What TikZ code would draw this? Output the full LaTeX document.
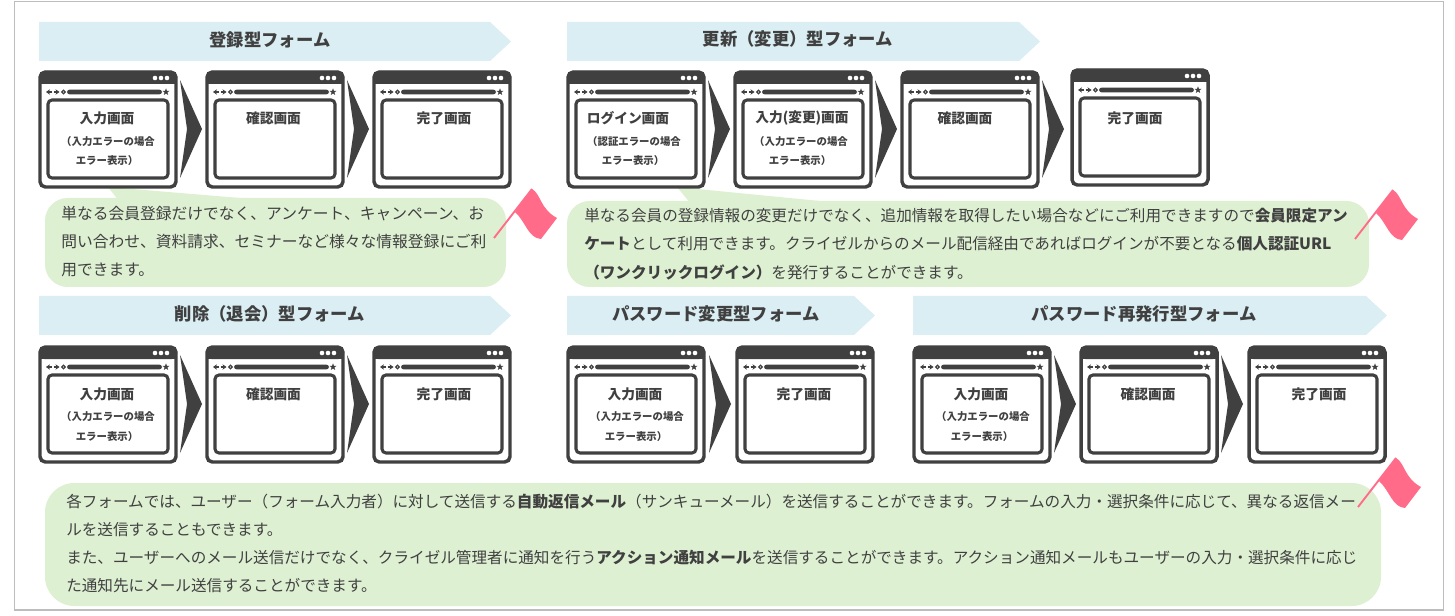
\documentclass[tikz,border=0pt]{standalone}
\usepackage{fontspec}
\setmainfont{Noto Sans CJK JP}
\usetikzlibrary{shapes.geometric,arrows.meta}
\definecolor{ink}{HTML}{404040}
\definecolor{bannerc}{HTML}{DAEEF4}
\definecolor{bubblec}{HTML}{DEF0D2}
\definecolor{flagc}{HTML}{FF6B88}
\definecolor{framec}{HTML}{BDBDBD}
\tikzset{
  winout/.style={draw=ink,line width=2.6pt,rounded corners=4pt,fill=white},
  winin/.style={draw=ink,line width=2.3pt,rounded corners=3pt,fill=white},
  titletxt/.style={font=\fontsize{13pt}{15pt}\selectfont\bfseries,text=ink,inner sep=0pt},
  scrhead/.style={font=\fontsize{10.3pt}{12pt}\selectfont\bfseries,text=ink,inner sep=0pt},
  scrnote/.style={font=\fontsize{7.8pt}{10pt}\selectfont\bfseries,text=ink,inner sep=0pt},
  bodytxt/.style={font=\fontsize{11.7pt}{14pt}\selectfont,text=ink,inner sep=0pt,anchor=west},
  bodytxtb/.style={bodytxt,font=\fontsize{11.82pt}{14pt}\selectfont},
}
% #1 x, #2 y
\newcommand{\winbox}[2]{%
  \begin{scope}[shift={(#1,#2)}]
    \path[winout] (1,1) rectangle (137,116);
    \fill[ink,rounded corners=4pt] (0,0) rectangle (138,13);
    \fill[ink] (0,8) rectangle (138,13);
    \foreach \dx in {116,122,128}{\fill[white] (\dx,7) circle (2.3);}
    \fill[ink,rounded corners=2pt] (28,18.6) rectangle (123,23.4);
    \draw[ink,line width=1pt,-{Stealth[length=3pt,width=4pt]}] (13,21) -- (7,21);
    \draw[ink,line width=1pt,-{Stealth[length=3pt,width=4pt]}] (14.5,21) -- (20.5,21);
    \draw[ink,line width=.9pt] (24.5,21) circle (1.8);
    \node[star,star points=5,star point ratio=2.4,fill=ink,inner sep=0pt,minimum size=5.5pt] (star#1x#2) at (127,21) {};
    \path[winin] (9,29) rectangle (129,107);
  \end{scope}}
% #1 x, #2 y-top, #3 y-bottom
\newcommand{\chev}[3]{%
  \fill[ink] (#1,#2) -- ({#1+22},{(#2+#3)/2}) -- (#1,#3) -- ({#1+7},{(#2+#3)/2}) -- cycle;}
% #1 x0 #2 x1 #3 y0
\newcommand{\banner}[3]{%
  \fill[bannerc] (#1,#3) -- ({#2-21},#3) -- (#2,{#3+19.5}) -- ({#2-21},{#3+39}) -- (#1,{#3+39}) -- cycle;}
% #1 x #2 y
\newcommand{\flagmark}[2]{%
  \begin{scope}[shift={(#1,#2)}]
    \draw[flagc,line width=1.4pt] (0,49) -- (38,0);
    \fill[flagc] (38,0) .. controls (47,5) and (46,20) .. (63,29)
       -- (47,50) .. controls (34,49) and (32,33) .. (21,23) -- cycle;
  \end{scope}}
\begin{document}
\begin{tikzpicture}[x=0.75pt,y=-0.75pt]
\useasboundingbox (0,0) rectangle (1455,616);
\fill[white] (0,0) rectangle (1455,616);
\draw[framec,line width=.8pt] (14.5,1.5) -- (1443.5,1.5) -- (1443.5,610) -- (14.5,610) -- cycle;

% banners
\banner{39}{511}{22}
\banner{567}{1040}{22}
\banner{39}{511}{296}
\banner{567}{875}{296}
\banner{913}{1387}{296}
\node[titletxt] (t1) at (270,40) {登録型フォーム};
\node[titletxt] (t2) at (798,39) {更新（変更）型フォーム};
\node[titletxt] (t3) at (270,314) {削除（退会）型フォーム};
\node[titletxt] (t4) at (716,314) {パスワード変更型フォーム};
\node[titletxt] (t5) at (1144,314) {パスワード再発行型フォーム};

% bubbles
\fill[bubblec] (108,187) -- (240,198) -- (130,215) -- cycle;
\fill[bubblec,rounded corners=17pt] (45,198) rectangle (506,287);
\fill[bubblec] (677,187) -- (820,201) -- (700,215) -- cycle;
\fill[bubblec,rounded corners=17pt] (567,201) rectangle (1369,287);
\fill[bubblec,rounded corners=22pt] (45,483) rectangle (1381,606);

% windows row 1
\winbox{39}{71}
\winbox{206}{71}
\winbox{373}{71}
\chev{180}{80}{178}
\chev{347}{80}{178}
\winbox{567}{71}
\winbox{734}{71}
\winbox{901}{71}
\winbox{1071}{69}
\chev{708}{80}{178}
\chev{875}{80}{178}
\chev{1042}{80}{178}
% windows row 2
\winbox{39}{346}
\winbox{206}{346}
\winbox{373}{346}
\chev{180}{355}{453}
\chev{347}{355}{453}
\winbox{567}{346}
\winbox{736}{346}
\chev{709}{355}{453}
\winbox{913}{346}
\winbox{1080}{346}
\winbox{1248}{346}
\chev{1054}{355}{453}
\chev{1221}{355}{453}

% screen labels
\node[scrhead] (l1) at (107,118) {入力画面};
\node[scrnote] (l2) at (108,142) {（入力エラーの場合};
\node[scrnote] (l3) at (107,161) {エラー表示）};
\node[scrhead] (l4) at (273.5,118) {確認画面};
\node[scrhead] (l5) at (444,118) {完了画面};
\node[scrhead] (l6) at (628,118) {ログイン画面};
\node[scrnote] (l7) at (634,142) {（認証エラーの場合};
\node[scrnote] (l8) at (633,161) {エラー表示）};
\node[scrhead] (l9) at (802,118) {入力(変更)画面};
\node[scrnote] (l10) at (801,142) {（入力エラーの場合};
\node[scrnote] (l11) at (800,161) {エラー表示）};
\node[scrhead] (l12) at (965,118) {確認画面};
\node[scrhead] (l13) at (1135,118) {完了画面};

\node[scrhead] (m1) at (107,394) {入力画面};
\node[scrnote] (m2) at (108,417) {（入力エラーの場合};
\node[scrnote] (m3) at (107,437) {エラー表示）};
\node[scrhead] (m4) at (273.5,394) {確認画面};
\node[scrhead] (m5) at (444,394) {完了画面};
\node[scrhead] (m6) at (635,394) {入力画面};
\node[scrnote] (m7) at (637,417) {（入力エラーの場合};
\node[scrnote] (m8) at (636,437) {エラー表示）};
\node[scrhead] (m9) at (804,394) {完了画面};
\node[scrhead] (m10) at (981,394) {入力画面};
\node[scrnote] (m11) at (983,417) {（入力エラーの場合};
\node[scrnote] (m12) at (982,437) {エラー表示）};
\node[scrhead] (m13) at (1148,394) {確認画面};
\node[scrhead] (m14) at (1319,394) {完了画面};

% body texts
\node[bodytxtb] (b1a) at (61,214) {単なる会員登録だけでなく、アンケート、キャンペーン、お};
\node[bodytxtb] (b1b) at (61,242) {問い合わせ、資料請求、セミナーなど様々な情報登録にご利};
\node[bodytxtb] (b1c) at (61,270) {用できます。};
\node[bodytxt] (b2a) at (584,216) {単なる会員の登録情報の変更だけでなく、追加情報を取得したい場合などにご利用できますので\textbf{会員限定アン}};
\node[bodytxt] (b2b) at (584,244) {\textbf{ケート}として利用できます。クライゼルからのメール配信経由であればログインが不要となる\textbf{個人認証URL}};
\node[bodytxt] (b2c) at (584,272) {\textbf{（ワンクリックログイン）}を発行することができます。};
\node[bodytxt] (b3a) at (66,502) {各フォームでは、ユーザー（フォーム入力者）に対して送信する\textbf{自動返信メール}（サンキューメール）を送信することができます。フォームの入力・選択条件に応じて、異なる返信メー};
\node[bodytxt] (b3b) at (66,530) {ルを送信することもできます。};
\node[bodytxt] (b3c) at (66,558) {また、ユーザーへのメール送信だけでなく、クライゼル管理者に通知を行う\textbf{アクション通知メール}を送信することができます。アクション通知メールもユーザーの入力・選択条件に応じ};
\node[bodytxt] (b3d) at (66,586) {た通知先にメール送信することができます。};

% flags
\flagmark{494}{189}
\flagmark{1355}{190}
\flagmark{1358}{458}
\end{tikzpicture}
\end{document}
